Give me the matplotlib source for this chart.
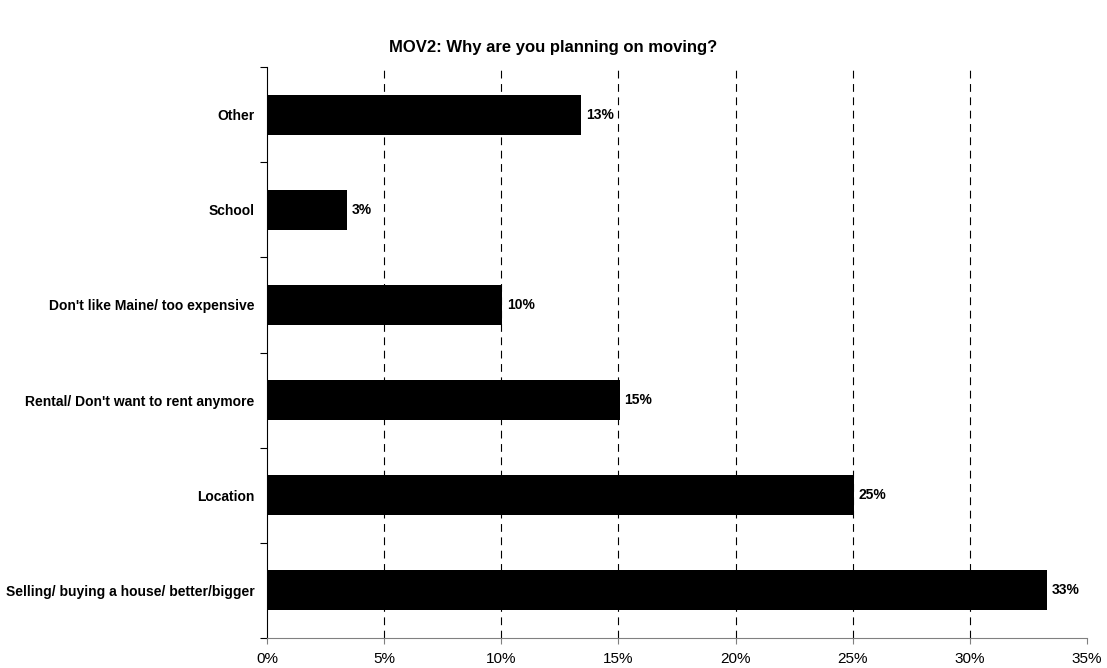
import numpy as np
import matplotlib.pyplot as plt

plt.rcParams['font.family'] = ['Liberation Sans', 'DejaVu Sans']

reasons = ["Selling/ buying a house/ better/bigger", "Location",
           "Rental/ Don't want to rent anymore", "Don't like Maine/ too expensive",
           "School", "Other"]
shares = [33.3, 25.05, 15.05, 10.05, 3.4, 13.4]
labels = ["33%", "25%", "15%", "10%", "3%", "13%"]

fig = plt.figure(figsize=(11.07, 6.68), dpi=100)
ax = fig.add_axes([0.2412, 0.0449, 0.7408, 0.8548])

y = np.arange(len(reasons))
ax.barh(y, shares, height=0.42, color='black', zorder=3)
for yi, v, t in zip(y, shares, labels):
    ax.text(v + 0.2, yi, t, va='center', ha='left', fontsize=10, fontweight='bold')

ax.set_xlim(0, 35)
ax.set_ylim(-0.5, len(reasons) - 0.5)
ax.set_xticks(np.arange(0, 36, 5))
ax.set_xticklabels([f"{v}%" for v in range(0, 36, 5)], fontsize=11)
ax.set_yticks(np.arange(-0.5, len(reasons), 1.0))
ax.set_yticklabels([])
ax.set_yticks(y, minor=True)
ax.set_yticklabels(reasons, minor=True, fontsize=10, fontweight='bold')
ax.tick_params(axis='y', which='minor', length=0, pad=9)
ax.tick_params(axis='y', which='major', length=5, direction='out')
ax.tick_params(axis='x', length=4, direction='out', color='#808080', pad=6)

for x in range(5, 35, 5):
    ax.axvline(x, color='black', lw=0.8, ls=(0, (7, 5)), zorder=1)

ax.spines['top'].set_visible(False)
ax.spines['right'].set_visible(False)
ax.spines['bottom'].set_color('#808080')
ax.spines['left'].set_color('black')

fig.suptitle("MOV2: Why are you planning on moving?", y=0.94, fontsize=12, fontweight='bold')

fig.savefig('out.png', dpi=100)
